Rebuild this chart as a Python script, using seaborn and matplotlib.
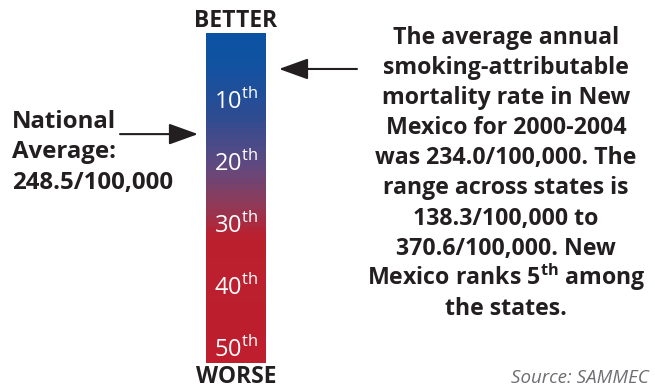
import numpy as np
import pandas as pd
import matplotlib
matplotlib.use("Agg")
import matplotlib.pyplot as plt
from matplotlib.colors import LinearSegmentedColormap
import seaborn as sns

# rank scale: 1 = best state, 50 = worst
bar_ranks = list(range(-1, 53))          # rows of the gradient bar
bar_top, bar_bottom = -0.8, 52.4         # visible extent of the bar in ranks
label_ranks = [10, 20, 30, 40, 50]
nm_rank = 5                              # New Mexico
nat_avg_rank = 15.5                      # national average (248.5/100,000)

# gradient stops (fraction down the bar) and colours
stop_pos = [0.0, 0.08, 0.25, 0.40, 0.52, 0.62, 1.0]
stop_col = ["#0b52a3", "#0f52a2", "#2d4c92", "#604980", "#8f3a58", "#bb1f2e", "#be1e2d"]

left_lines = ["National", "Average:", "248.5/100,000"]
right_lines = ["The average annual", "smoking-attributable", "mortality rate in New",
               "Mexico for 2000-2004", "was 234.0/100,000. The", "range across states is",
               "138.3/100,000 to", "370.6/100,000. New",
               r"Mexico ranks 5$^{\mathbf{th}}$ among", "the states."]
source = "Source: SAMMEC"

sns.set_style("white")
plt.rcParams['font.family'] = ['Open Sans', 'DejaVu Sans']
plt.rcParams['mathtext.fontset'] = 'custom'
plt.rcParams['mathtext.rm'] = 'Open Sans'
plt.rcParams['mathtext.bf'] = 'Open Sans:bold'
ink = "#231f20"

fig = plt.figure(figsize=(6.55, 3.88), dpi=100)
ax = fig.add_axes([0, 0, 1, 1])
ax.set_xlim(0, 655)
ax.set_ylim(388, 0)
ax.axis('off')

# gradient bar
ax_bar = fig.add_axes([206 / 655, 1 - 363 / 388, 60 / 655, 330 / 388])
cmap = LinearSegmentedColormap.from_list("better_worse", list(zip(stop_pos, stop_col)))
df = pd.DataFrame({"rank": bar_ranks}, index=bar_ranks)
sns.heatmap(df, ax=ax_bar, cmap=cmap, vmin=bar_top, vmax=bar_bottom, cbar=False,
            xticklabels=False, yticklabels=False)


def ry(r):
    return r - bar_ranks[0] + 0.5


ax_bar.set_ylim(ry(bar_bottom), ry(bar_top))
ax_bar.axis('off')

for r in label_ranks:
    ax_bar.annotate(f"{r}$^{{\\mathrm{{th}}}}$", xy=(0.5, ry(r)), xycoords=('axes fraction', 'data'),
                    xytext=(0, -9), textcoords='offset pixels', ha='center', va='baseline',
                    color='white', fontsize=17)

# arrows
head = '-|>,head_length=1.8,head_width=0.65'
ax_bar.annotate('', xy=(1, ry(nm_rank)), xycoords=('axes fraction', 'data'),
                xytext=(91, 0), textcoords='offset pixels',
                arrowprops=dict(arrowstyle=head, color=ink, lw=1.5, mutation_scale=10,
                                shrinkA=0, shrinkB=13 * 0.72))
ax_bar.annotate('', xy=(0, ry(nat_avg_rank)), xycoords=('axes fraction', 'data'),
                xytext=(-86, 0), textcoords='offset pixels',
                arrowprops=dict(arrowstyle=head, color=ink, lw=1.5, mutation_scale=10,
                                shrinkA=0, shrinkB=8 * 0.72))

# texts
ax.text(236, 21, "BETTER", ha='center', va='center', fontsize=16.5, fontweight='bold', color=ink)
ax.text(236, 377, "WORSE", ha='center', va='center', fontsize=16.5, fontweight='bold', color=ink)

for i, line in enumerate(left_lines):
    ax.text(12, 127.5 + 30.5 * i, line, ha='left', va='baseline', fontsize=17.3,
            fontweight='bold', color=ink)

for i, line in enumerate(right_lines):
    ax.text(506, 44 + 30.1 * i, line, ha='center', va='baseline', fontsize=16.7,
            fontweight='bold', color=ink)

ax.text(649, 383, source, ha='right', va='baseline', fontsize=13.5, style='italic', color="#6d6e71")

fig.savefig("out.png", dpi=100)
